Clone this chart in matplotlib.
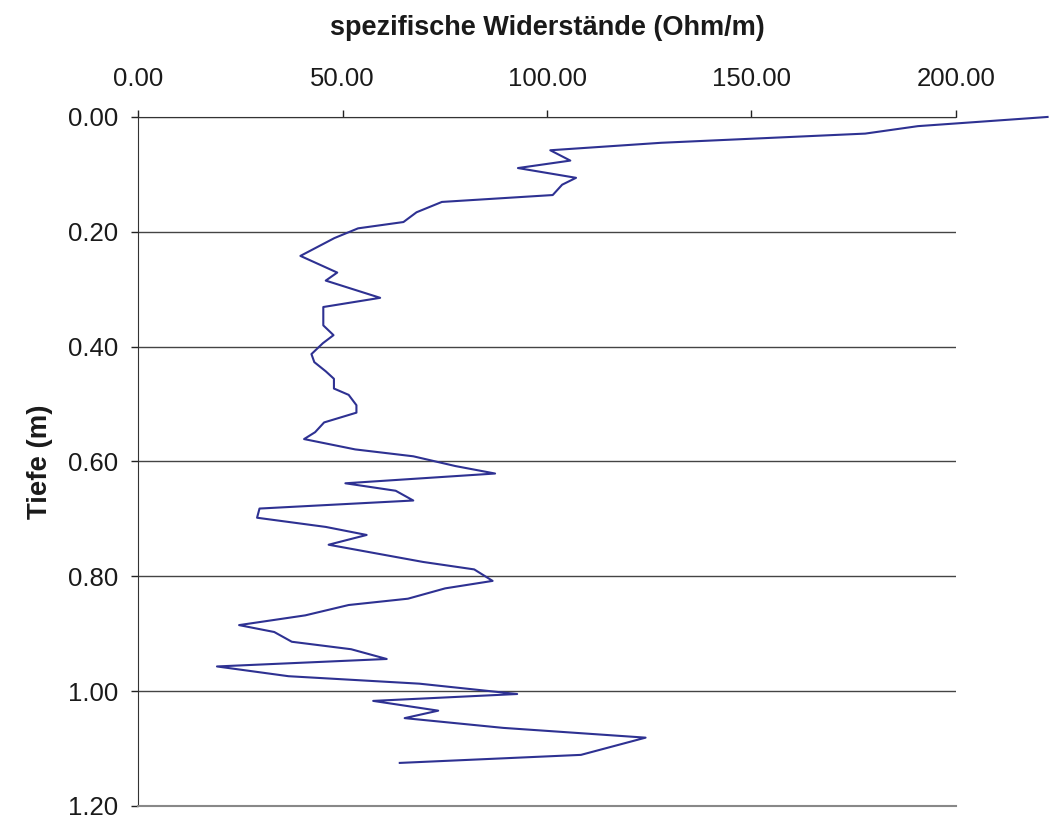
import matplotlib
matplotlib.use("Agg")
import matplotlib.pyplot as plt
from matplotlib.ticker import FormatStrFormatter

plt.rcParams["font.family"] = ["Liberation Sans", "DejaVu Sans"]

# spezifischer Widerstand (Ohm/m) ueber Tiefe (m)
widerstand = [
    222.4, 190.7, 177.8, 127.9, 100.8, 105.7, 92.9, 107.1, 103.7, 101.4,
    74.3, 68.1, 64.9, 53.8, 48.0, 39.7, 48.7, 45.9, 59.2, 45.3,
    45.3, 47.8, 45.2, 42.4, 43.1, 45.9, 47.9, 47.9, 51.5, 53.4,
    53.4, 45.5, 43.3, 40.6, 53.1, 67.3, 77.6, 87.3, 50.7, 63.0,
    67.3, 29.7, 29.1, 45.9, 55.9, 46.6, 69.7, 82.2, 86.7, 75.1,
    66.0, 51.5, 40.9, 24.7, 33.3, 37.6, 52.1, 60.8, 19.3, 36.8,
    68.8, 92.7, 57.5, 73.4, 65.2, 89.3, 124.1, 108.3, 64.0,
]
tiefe = [
    0.000, 0.016, 0.029, 0.045, 0.058, 0.076, 0.089, 0.106, 0.118, 0.136,
    0.148, 0.166, 0.183, 0.194, 0.211, 0.242, 0.271, 0.285, 0.315, 0.331,
    0.363, 0.380, 0.394, 0.413, 0.427, 0.443, 0.456, 0.473, 0.484, 0.502,
    0.515, 0.532, 0.549, 0.561, 0.579, 0.591, 0.608, 0.621, 0.638, 0.651,
    0.668, 0.682, 0.698, 0.714, 0.728, 0.745, 0.775, 0.788, 0.808, 0.821,
    0.839, 0.850, 0.868, 0.885, 0.897, 0.914, 0.927, 0.944, 0.957, 0.974,
    0.987, 1.005, 1.017, 1.034, 1.047, 1.064, 1.081, 1.111, 1.125,
]
x_ticks = [0, 50, 100, 150, 200]
y_ticks = [0.0, 0.2, 0.4, 0.6, 0.8, 1.0, 1.2]

fig = plt.figure(figsize=(10.49, 8.19), dpi=100)
ax = fig.add_axes([0.1316, 0.0159, 0.7797, 0.8413])

ax.plot(widerstand, tiefe, color="#2E3192", linewidth=1.5, clip_on=False, zorder=3)

ax.set_xlim(0, 200)
ax.set_ylim(1.2, 0)
ax.set_xticks(x_ticks)
ax.set_yticks(y_ticks)
ax.xaxis.set_major_formatter(FormatStrFormatter("%.2f"))
ax.yaxis.set_major_formatter(FormatStrFormatter("%.2f"))
ax.xaxis.tick_top()
ax.xaxis.set_label_position("top")
ax.tick_params(axis="both", direction="out", length=5, width=1, color="#222222",
               labelsize=18.5, labelcolor="#1a1a1a")
ax.tick_params(axis="x", pad=14)
ax.tick_params(axis="y", pad=9.4)

ax.yaxis.grid(True, color="#444444", linewidth=1)
ax.set_axisbelow(True)
ax.spines["right"].set_visible(False)
ax.spines["bottom"].set_color("#888888")
ax.spines["bottom"].set_linewidth(1.5)
ax.spines["top"].set_color("#333333")
ax.spines["left"].set_color("#333333")

ax.set_xlabel("spezifische Widerstände (Ohm/m)", fontsize=19.5, fontweight="bold",
              labelpad=23, color="#1a1a1a")
ax.set_ylabel("Tiefe (m)", fontsize=19.8, fontweight="bold", labelpad=11, color="#1a1a1a")

fig.savefig("out.png", dpi=100)
